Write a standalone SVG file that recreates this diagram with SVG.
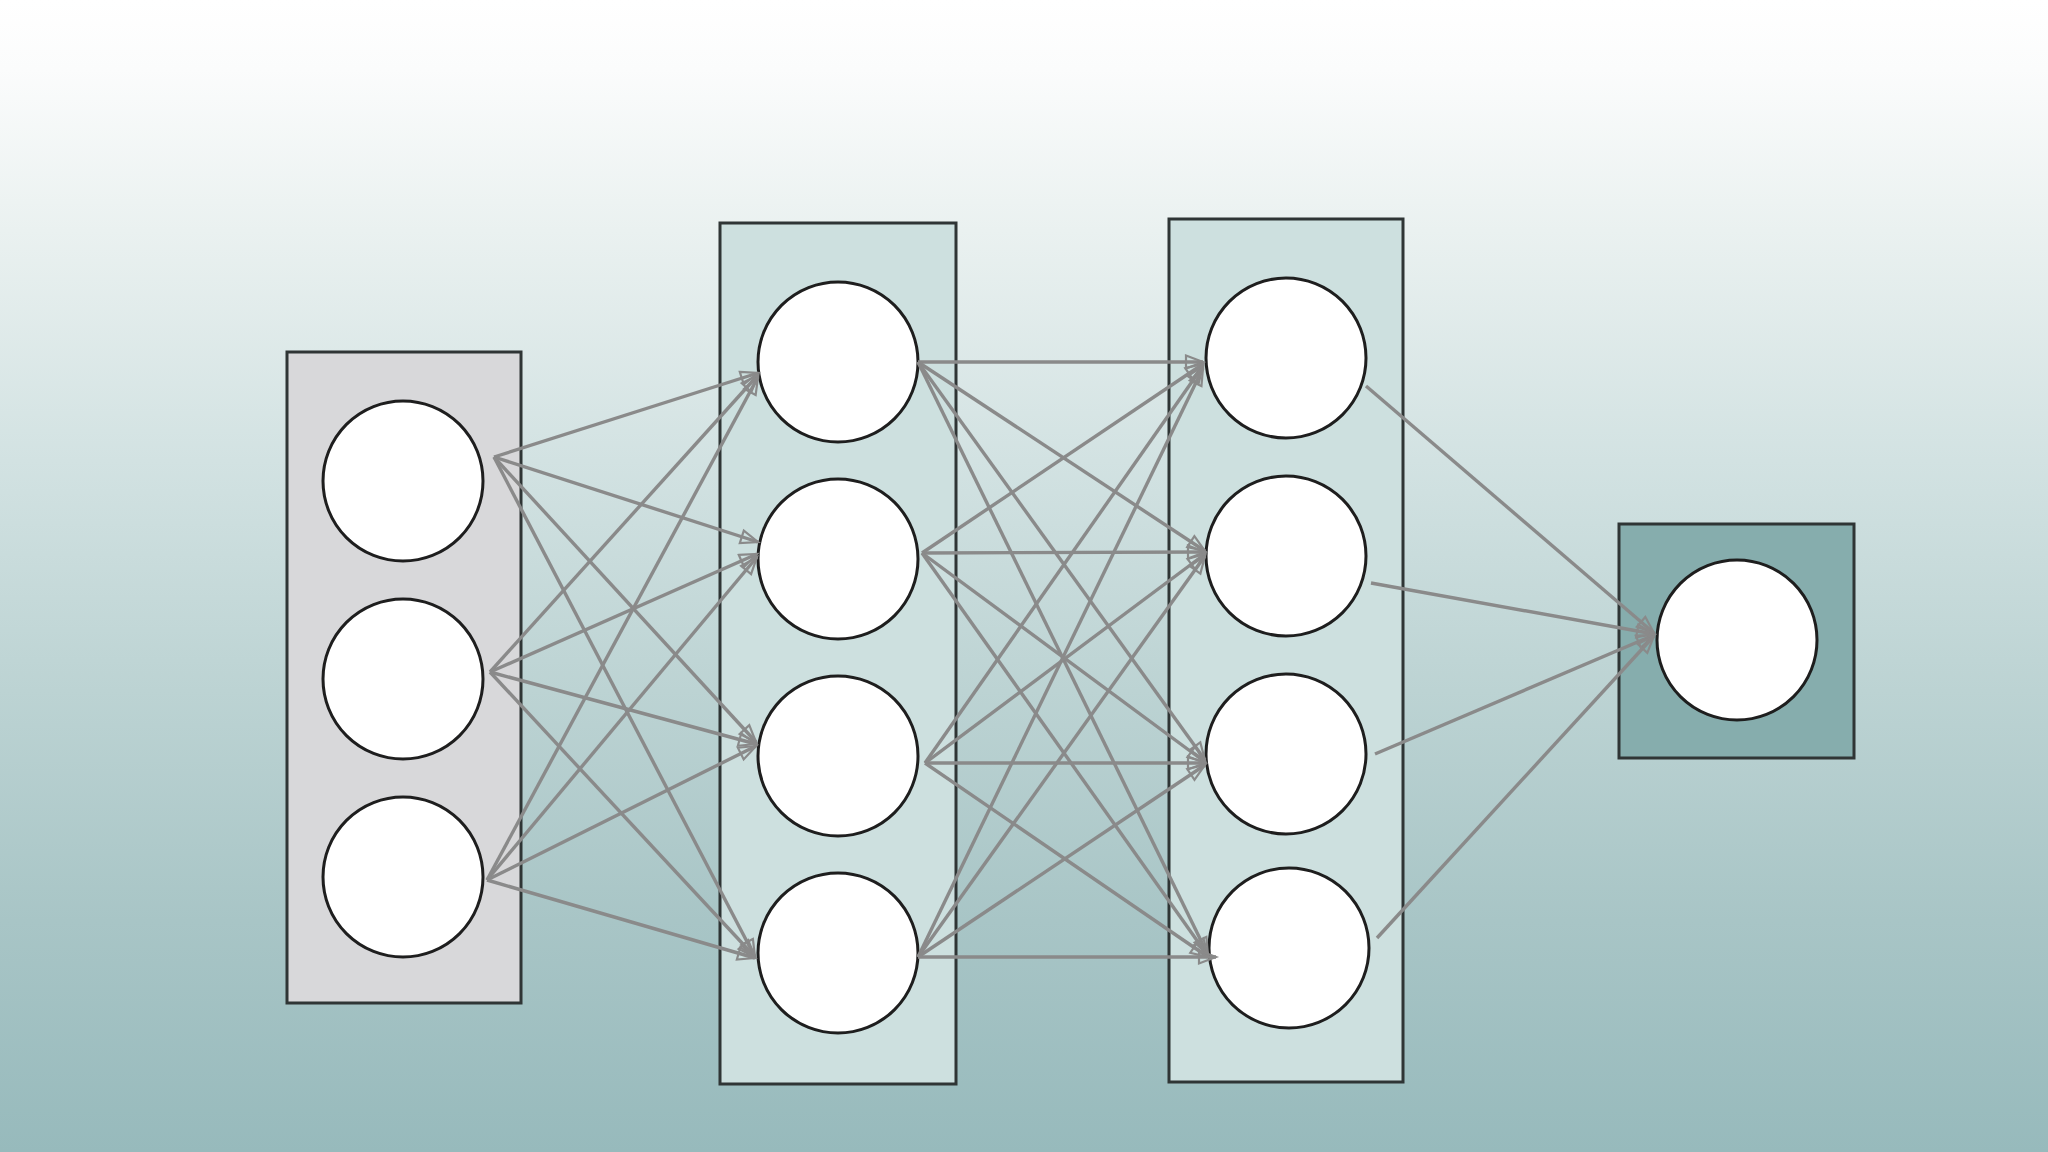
<svg xmlns="http://www.w3.org/2000/svg" width="2048" height="1152" viewBox="0 0 2048 1152">
<defs>
<linearGradient id="bg" x1="0" y1="0" x2="0" y2="1">
<stop offset="0" stop-color="#ffffff"/>
<stop offset="0.06" stop-color="#fbfcfc"/>
<stop offset="0.2" stop-color="#eaf1f0"/>
<stop offset="0.4" stop-color="#d2e2e2"/>
<stop offset="0.6" stop-color="#bcd3d3"/>
<stop offset="0.8" stop-color="#a8c5c6"/>
<stop offset="1" stop-color="#97babc"/>
</linearGradient>
<marker id="ah" markerUnits="userSpaceOnUse" markerWidth="24" markerHeight="20" refX="19" refY="8" orient="auto" viewBox="0 0 24 16">
<path d="M2,1.5 L19,8 L2,14.5 Z" fill="none" stroke="#8a8a8a" stroke-width="2.2"/>
</marker>
</defs>
<style>
.layer{stroke:#2f3535;stroke-width:3}
.in{fill:#d8d8da}
.hid{fill:#cde0df}
.out{fill:#86adad}
.node{fill:#ffffff;stroke:#1e1e1e;stroke-width:3}
.edge{fill:none;stroke:#8a8a8a;stroke-width:3.4;marker-end:url(#ah)}
</style>
<rect x="0" y="0" width="2048" height="1152" fill="url(#bg)"/>
<g id="input-layer">
<rect class="layer in" x="287" y="352" width="234" height="651"/>
<g id="i1"><circle class="node" cx="403" cy="481" r="80"/></g>
<g id="i2"><circle class="node" cx="403" cy="679" r="80"/></g>
<g id="i3"><circle class="node" cx="403" cy="877" r="80"/></g>
</g>
<g id="hidden1-layer">
<rect class="layer hid" x="720" y="223" width="236" height="861"/>
<g id="h1a"><circle class="node" cx="838" cy="362" r="80"/></g>
<g id="h1b"><circle class="node" cx="838" cy="559" r="80"/></g>
<g id="h1c"><circle class="node" cx="838" cy="756" r="80"/></g>
<g id="h1d"><circle class="node" cx="838" cy="953" r="80"/></g>
</g>
<g id="hidden2-layer">
<rect class="layer hid" x="1169" y="219" width="234" height="863"/>
<g id="h2a"><circle class="node" cx="1286" cy="358" r="80"/></g>
<g id="h2b"><circle class="node" cx="1286" cy="556" r="80"/></g>
<g id="h2c"><circle class="node" cx="1286" cy="754" r="80"/></g>
<g id="h2d"><circle class="node" cx="1289" cy="948" r="80"/></g>
</g>
<g id="output-layer">
<rect class="layer out" x="1619" y="524" width="235" height="234"/>
<g id="o1"><circle class="node" cx="1737" cy="640" r="80"/></g>
</g>
<g id="connectors">
<path class="edge" d="M494,457 L758,373"/>
<path class="edge" d="M494,457 L758,542"/>
<path class="edge" d="M494,457 L756,742"/>
<path class="edge" d="M494,457 L755,957"/>
<path class="edge" d="M490,672 L758,375"/>
<path class="edge" d="M490,672 L757,554"/>
<path class="edge" d="M490,672 L756,744"/>
<path class="edge" d="M490,672 L755,957"/>
<path class="edge" d="M487,880 L758,377"/>
<path class="edge" d="M487,880 L757,557"/>
<path class="edge" d="M487,880 L756,746"/>
<path class="edge" d="M487,880 L755,958"/>
<path class="edge" d="M918,362 L1203,362"/>
<path class="edge" d="M918,362 L1205,551"/>
<path class="edge" d="M918,362 L1205,760"/>
<path class="edge" d="M918,362 L1208,955"/>
<path class="edge" d="M922,553 L1203,364"/>
<path class="edge" d="M922,553 L1205,552"/>
<path class="edge" d="M922,553 L1205,762"/>
<path class="edge" d="M922,553 L1208,956"/>
<path class="edge" d="M925,763 L1203,366"/>
<path class="edge" d="M925,763 L1205,554"/>
<path class="edge" d="M925,763 L1205,763"/>
<path class="edge" d="M925,763 L1208,957"/>
<path class="edge" d="M918,957 L1203,368"/>
<path class="edge" d="M918,957 L1205,556"/>
<path class="edge" d="M918,957 L1205,765"/>
<path class="edge" d="M918,957 L1216,957"/>
<path class="edge" d="M1366,386 L1654,633"/>
<path class="edge" d="M1371,583 L1654,634"/>
<path class="edge" d="M1375,754 L1654,635"/>
<path class="edge" d="M1377,938 L1654,636"/>
</g>
</svg>
